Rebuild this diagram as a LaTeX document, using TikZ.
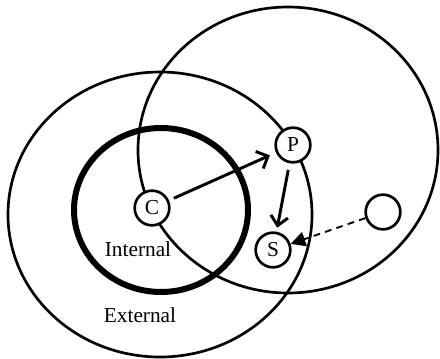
\documentclass[tikz,border=0pt]{standalone}
\usepackage{fontspec}
\setmainfont{Liberation Serif}
\usetikzlibrary{arrows.meta}
\tikzset{
  agent/.style={circle,draw,line width=2pt,minimum size=26pt,inner sep=0pt,font=\fontsize{16}{19}\selectfont},
  ring/.style={line width=2pt},
  lbl/.style={font=\fontsize{16}{19}\selectfont}
}

\begin{document}
\begin{tikzpicture}[x=0.75pt,y=0.75pt]
      % frame: 440 x 358 px
      \useasboundingbox (0,0) rectangle (440,358);
      % outer (external) and right regions
      \draw[ring] (160,143.5) ellipse [x radius=152,y radius=142.5];
      \draw[ring] (288,208) ellipse [x radius=150,y radius=143];
      % internal boundary (thick)
      \draw[line width=4.5pt] (161,148) ellipse [x radius=87,y radius=82];
      % agents
      \node[agent,fill=white] (C) at (152,150) {C};
      \node[agent,fill=white] (P) at (293,213) {P};
      \node[agent,fill=white] (S) at (273,108) {S};
      \node[agent] (E) at (383,146) {};
      % labels
      \node[lbl] (int) at (138,109) {Internal};
      \node[lbl] (ext) at (140,43) {External};
      % links
      \draw[line width=2.2pt,-{Straight Barb[length=7pt,width=14pt]},shorten <=4pt,shorten >=5pt] (C) -- (P);
      \draw[line width=2.2pt,-{Straight Barb[length=7pt,width=13pt]},shorten <=5pt,shorten >=3pt] (P) -- (S);
      \draw[line width=1.4pt,dash pattern=on 5pt off 4pt,-{Triangle[length=11pt,width=11pt]}] (E) -- (S);
    \end{tikzpicture}
\end{document}
